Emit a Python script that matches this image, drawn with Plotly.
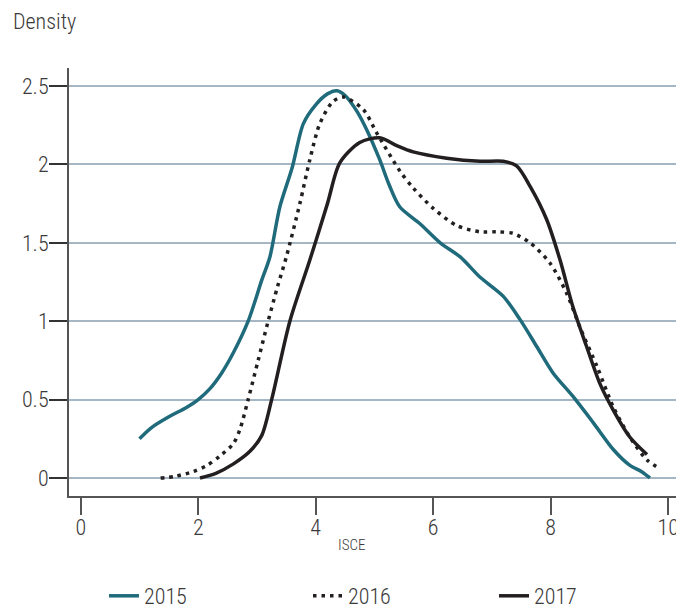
import plotly.graph_objects as go

# 2015 density
x2015 = [1.0, 1.2, 1.5, 1.8, 2.0, 2.2, 2.4, 2.6, 2.85, 3.08, 3.22, 3.39, 3.6, 3.79, 4.0, 4.2, 4.36, 4.5, 4.7, 4.87, 5.09, 5.25, 5.43, 5.78, 6.12, 6.46, 6.80, 7.19, 7.48, 7.76, 8.04, 8.38, 8.73, 9.07, 9.35, 9.55, 9.69]
y2015 = [0.25, 0.32, 0.39, 0.45, 0.50, 0.57, 0.67, 0.80, 1.00, 1.26, 1.41, 1.73, 1.98, 2.26, 2.38, 2.45, 2.47, 2.44, 2.34, 2.22, 2.03, 1.87, 1.73, 1.62, 1.50, 1.41, 1.28, 1.16, 1.01, 0.84, 0.67, 0.52, 0.35, 0.18, 0.08, 0.04, 0.0]

# 2016 density
x2016 = [1.36, 1.6, 1.91, 2.15, 2.37, 2.6, 2.71, 2.85, 3.02, 3.19, 3.35, 3.50, 3.73, 3.90, 4.07, 4.29, 4.47, 4.81, 5.04, 5.43, 5.66, 6.0, 6.4, 6.8, 7.1, 7.36, 7.65, 7.99, 8.27, 8.5, 8.79, 9.07, 9.35, 9.64, 9.86]
y2016 = [0.0, 0.01, 0.04, 0.08, 0.14, 0.22, 0.31, 0.50, 0.75, 1.00, 1.22, 1.41, 1.75, 2.03, 2.26, 2.40, 2.43, 2.35, 2.20, 1.96, 1.85, 1.72, 1.61, 1.57, 1.57, 1.56, 1.50, 1.37, 1.18, 0.96, 0.71, 0.45, 0.26, 0.115, 0.06]

# 2017 density
x2017 = [2.03, 2.3, 2.6, 2.88, 3.08, 3.25, 3.56, 3.9, 4.2, 4.41, 4.75, 5.09, 5.38, 5.66, 6.23, 6.80, 7.19, 7.42, 7.65, 7.93, 8.16, 8.38, 8.61, 8.84, 9.07, 9.35, 9.64]
y2017 = [0.0, 0.03, 0.09, 0.17, 0.27, 0.50, 1.00, 1.39, 1.75, 2.01, 2.14, 2.17, 2.12, 2.08, 2.04, 2.02, 2.02, 1.99, 1.86, 1.65, 1.39, 1.09, 0.84, 0.60, 0.43, 0.26, 0.15]

x_ticks = [0, 2, 4, 6, 8, 10]
y_ticks = [0, 0.5, 1, 1.5, 2, 2.5]
y_ticktext = ["0", "0.5", "1", "1.5", "2", "2.5"]

FONT = "Roboto Condensed, Roboto, sans-serif"
TXT = "#3a3a3a"
TEAL = "#1f6b7b"
DARK = "#231f20"

# figure sits 8px in from the page's top-left corner (body margin)
FW, FH = 676, 601
L, T, R, B = 61, 60, 676, 488
W_PLOT = R - L
H_PLOT = B - T

fig = go.Figure()
fig.add_trace(go.Scatter(x=x2015, y=y2015, mode="lines", name="2015", legend="legend",
                         line=dict(color=TEAL, width=3.5, shape="spline", smoothing=0.8)))
fig.add_trace(go.Scatter(x=x2016, y=y2016, mode="lines", name="2016", legend="legend2",
                         line=dict(color=DARK, width=3.5, shape="spline", smoothing=0.8, dash="3.5px,5px")))
fig.add_trace(go.Scatter(x=x2017, y=y2017, mode="lines", name="2017", legend="legend3",
                         line=dict(color=DARK, width=3.5, shape="spline", smoothing=0.8)))

leg_common = dict(orientation="h", xref="container", yref="container", yanchor="middle",
                  y=(FH - 588) / FH, xanchor="left", bgcolor="rgba(0,0,0,0)",
                  font=dict(family=FONT, size=22, color=TXT, weight=300))

fig.update_layout(
    width=FW, height=FH,
    margin=dict(l=L, r=FW - R, t=T, b=FH - B, autoexpand=False),
    plot_bgcolor="white", paper_bgcolor="white",
    font=dict(family=FONT, size=22, color=TXT, weight=300),
    showlegend=True,
    legend=dict(x=96 / FW, **leg_common),
    legend2=dict(x=300 / FW, **leg_common),
    legend3=dict(x=486 / FW, **leg_common),
    xaxis=dict(range=[-0.2, 10.27], tickvals=x_ticks, showgrid=False, automargin=False,
               zeroline=False, showline=True, linecolor="#555555", linewidth=2,
               ticks="outside", ticklen=17, tickwidth=2, tickcolor="#555555",
               ticklabelstandoff=-6, ticklabeloverflow="allow",
               tickfont=dict(family=FONT, size=22, color=TXT, weight=300)),
    yaxis=dict(range=[-0.115, 2.615], tickvals=y_ticks, ticktext=y_ticktext, automargin=False,
               showgrid=True, gridcolor="#a5b7c5", gridwidth=1.5,
               zeroline=False, showline=True, linecolor="#555555", linewidth=2,
               ticks="outside", ticklen=18, tickwidth=2, tickcolor="#333333",
               ticklabelstandoff=-4, ticklabeloverflow="allow",
               tickfont=dict(family=FONT, size=22, color=TXT, weight=300)),
    annotations=[
        dict(text="Density", xref="paper", yref="paper", x=(3 - L) / W_PLOT, y=(B + 1) / H_PLOT,
             xanchor="left", yanchor="top", showarrow=False,
             font=dict(family=FONT, size=22, color=TXT, weight=300)),
        dict(text="ISCE", xref="paper", yref="paper", x=(343 - L) / W_PLOT, y=(B - 537) / H_PLOT,
             xanchor="center", yanchor="middle", showarrow=False,
             font=dict(family=FONT, size=15, color=TXT, weight=300)),
    ],
)

fig.write_html("out.html")
